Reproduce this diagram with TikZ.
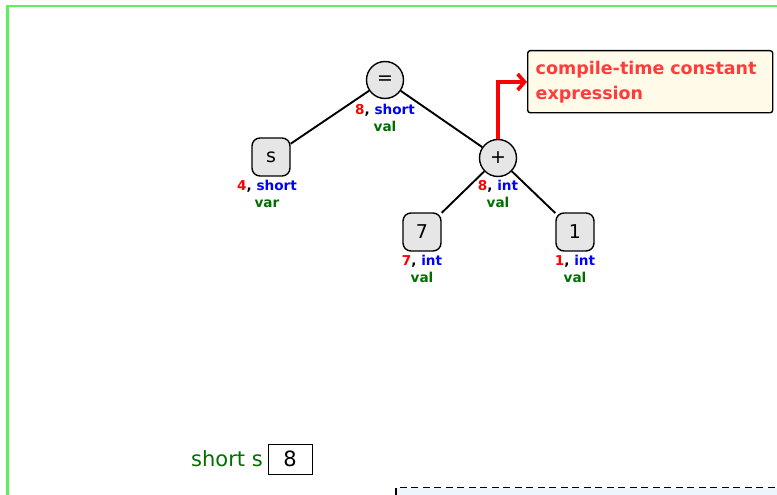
\documentclass[tikz,border=0pt]{standalone}
\usepackage{fontspec}
\setmainfont{DejaVu Sans}
\setsansfont{DejaVu Sans}
\usetikzlibrary{arrows.meta}
\definecolor{framegreen}{HTML}{5CF05C}
\definecolor{valgreen}{HTML}{006E00}
\definecolor{nodegray}{HTML}{E6E6E6}
\definecolor{notecream}{HTML}{FFFBE8}
\definecolor{notered}{HTML}{FF3B3B}
\definecolor{dashblue}{HTML}{EEF5FD}
\tikzset{
  opnode/.style={circle, draw=black, line width=1.4pt, fill=nodegray, minimum size=37pt, inner sep=0pt, font=\fontsize{19}{19}\selectfont},
  leafnode/.style={rectangle, rounded corners=8pt, draw=black, line width=1.4pt, fill=nodegray, minimum width=38pt, minimum height=38pt, inner sep=0pt, font=\fontsize{19}{19}\selectfont},
  lab/.style={align=center, inner sep=0pt, font=\bfseries\fontsize{13.6}{16.5}\selectfont},
  edge/.style={line width=1.9pt, black},
}
\newcommand{\attr}[3]{{\color{red}#1}, {\color{blue}#2}\\{\color{valgreen}#3}}
\begin{document}
\begin{tikzpicture}[x=1pt,y=-1pt]
\useasboundingbox (0,0) rectangle (777,495);
% frame
\draw[framegreen, line width=2.4pt] (7.5,499) -- (7.5,6.5);
\draw[framegreen, line width=1.5pt] (6.3,5.8) -- (790,5.8);
% dashed box
\draw[dashed, dash pattern=on 7pt off 4.5pt, line width=1.6pt, fill=dashblue] (396,487.5) rectangle (800,520);
% nodes
\node[opnode] (eq) at (385,80) {=};
\node[opnode] (plus) at (498,158) {+};
\node[leafnode] (s) at (271,157) {s};
\node[leafnode] (seven) at (422,232) {7};
\node[leafnode] (one) at (575,232) {1};
% labels
\node[lab] (eqlab) at (385,118) {\attr{8}{short}{val}};
\node[lab] (slab) at (267,194) {\attr{4}{short}{var}};
\node[lab] (pluslab) at (498,194) {\attr{8}{int}{val}};
\node[lab] (sevenlab) at (422,269) {\attr{7}{int}{val}};
\node[lab] (onelab) at (575,269) {\attr{1}{int}{val}};
% edges
\draw[edge] (eq) -- (s);
\draw[edge] (eq) -- (plus);
\draw[edge] (plus) -- (seven);
\draw[edge] (plus) -- (one);
% note
\node[draw=black, line width=1.4pt, fill=notecream, rounded corners=2.5pt, minimum width=245pt, minimum height=62pt, anchor=north west, align=left, text=notered, font=\bfseries\fontsize{17.5}{25}\selectfont, inner xsep=8pt, text width=229pt] (note) at (527,50) {compile-time constant\\expression};
\draw[red, line width=3.6pt, -{Straight Barb[length=7pt,width=16pt,line width=3.6pt]}] (plus.north) |- (note.west |- 0,82);
% bottom
\node[anchor=east, text=valgreen, font=\fontsize{21}{21}\selectfont, inner sep=0pt] (decl) at (263,459) {short s};
\node[draw=black, line width=1pt, minimum width=44pt, minimum height=30pt, inner sep=0pt, font=\fontsize{21}{21}\selectfont] (val) at (290,459) {8};
\end{tikzpicture}
\end{document}
